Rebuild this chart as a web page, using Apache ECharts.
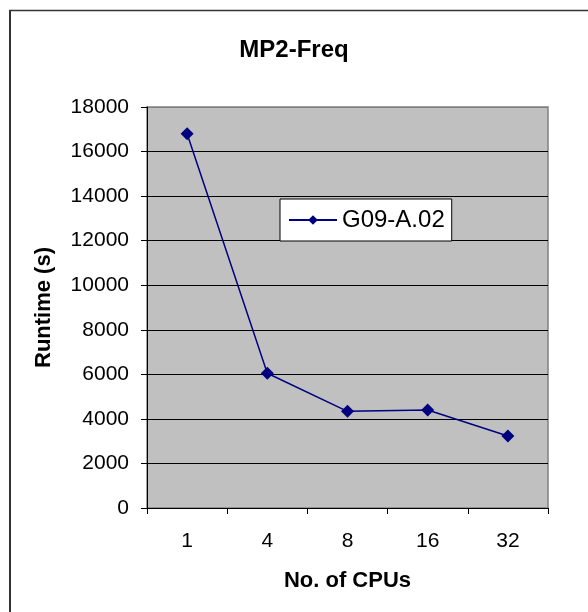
<!DOCTYPE html>
<html>
<head>
<meta charset="utf-8">
<title>MP2-Freq</title>
<script src="https://cdn.jsdelivr.net/npm/echarts@6/dist/echarts.min.js"></script>
<style>
  html, body { margin: 0; padding: 0; background: #ffffff; }
  #chart { width: 588px; height: 612px; }
</style>
</head>
<body>
<div id="chart"></div>
<script>
// Runtime of the MP2 frequency job against the number of CPUs
const cpuCounts = ['1', '4', '8', '16', '32'];
const runtimeG09 = [16800, 6050, 4340, 4400, 3230];
const seriesName = 'G09-A.02';
const chartTitle = 'MP2-Freq';
const xAxisTitle = 'No. of CPUs';
const yAxisTitle = 'Runtime (s)';

const FONT = '"Liberation Sans", Arial, sans-serif';

// gridlines at 0..18000; the top one is part of the grey plot frame
const gridColors = ['#000', '#000', '#000', '#000', '#000', '#000', '#000', '#000', '#000', '#808080'];

const chart = echarts.init(document.getElementById('chart'), null, { renderer: 'canvas' });

chart.setOption({
  backgroundColor: '#ffffff',
  animation: false,
  title: {
    text: chartTitle,
    left: 'center',
    top: 38,
    padding: 0,
    textStyle: { fontFamily: FONT, fontSize: 24, fontWeight: 'bold', color: '#000' }
  },
  legend: {
    left: 280,
    top: 199,
    orient: 'horizontal',
    backgroundColor: '#ffffff',
    borderColor: '#000000',
    borderWidth: 1,
    borderRadius: 0,
    padding: [9, 7, 9, 8],
    itemWidth: 48,
    itemHeight: 12,
    itemGap: 0,
    textStyle: { fontFamily: FONT, fontSize: 24, color: '#000' },
    data: [seriesName]
  },
  grid: {
    left: 147,
    right: 40,
    top: 107,
    bottom: 104,
    show: true,
    backgroundColor: '#C0C0C0',
    borderColor: '#808080',
    borderWidth: 1.5
  },
  xAxis: {
    type: 'category',
    data: cpuCounts,
    boundaryGap: true,
    name: xAxisTitle,
    nameLocation: 'middle',
    nameGap: 62,
    nameTextStyle: { fontFamily: FONT, fontSize: 22, fontWeight: 'bold', color: '#000' },
    axisLine: { show: true, lineStyle: { color: '#000', width: 1 } },
    axisTick: { show: true, interval: 0, length: 6, alignWithLabel: false, lineStyle: { color: '#000' } },
    axisLabel: { fontFamily: FONT, fontSize: 21, color: '#000', margin: 23 },
    splitLine: { show: false }
  },
  yAxis: {
    type: 'value',
    min: 0,
    max: 18000,
    interval: 2000,
    name: yAxisTitle,
    nameLocation: 'middle',
    nameGap: 92,
    nameTextStyle: { fontFamily: FONT, fontSize: 22, fontWeight: 'bold', color: '#000' },
    axisLine: { show: true, lineStyle: { color: '#000', width: 1 } },
    axisTick: { show: true, length: 6, lineStyle: { color: '#000' } },
    axisLabel: {
      fontFamily: FONT, fontSize: 21, color: '#000', margin: 18,
      formatter: v => String(v)
    },
    splitLine: { show: true, lineStyle: { color: gridColors, width: 1 } }
  },
  series: [{
    name: seriesName,
    type: 'line',
    data: runtimeG09,
    symbol: 'diamond',
    symbolSize: 13,
    color: '#000080',
    lineStyle: { color: '#000080', width: 1.5 },
    itemStyle: { color: '#000080' }
  }],
  graphic: [
    // outer chart frame, left and top edges
    { type: 'line', shape: { x1: 10, y1: 10, x2: 10, y2: 612 }, style: { stroke: '#333333', lineWidth: 2 } },
    { type: 'line', shape: { x1: 9, y1: 10.5, x2: 588, y2: 10.5 }, style: { stroke: '#333333', lineWidth: 1.5 } }
  ]
});
</script>
</body>
</html>
